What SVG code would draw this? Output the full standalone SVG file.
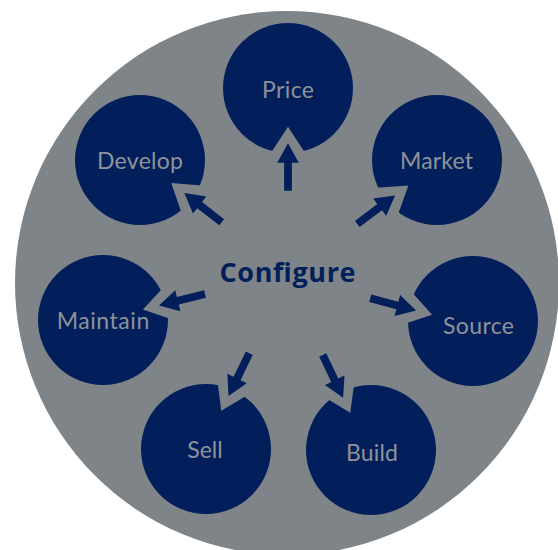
<svg xmlns="http://www.w3.org/2000/svg" width="558" height="550" viewBox="0 0 558 550">
  <style>
    .node { fill: #021f5b; }
    .label { font-family: Lato, "Open Sans", sans-serif; font-size: 23px; fill: #8e939a; text-anchor: middle; }
    .hub { font-family: "Open Sans", Lato, sans-serif; font-size: 27px; font-weight: bold; fill: #021f5b; text-anchor: middle; }
    .notch { fill: #7f8489; }
    .arrow { fill: #021f5b; }
  </style>
  <defs>
    <polygon id="notch" class="notch" points="64,0 28,-23.5 28,23.5"/>
    <path id="arrow" class="arrow" d="M0,-3.9 L28,-3.9 L28,-10.8 L47.4,0 L28,10.8 L28,3.9 L0,3.9 Z"/>
  </defs>
  <rect width="558" height="550" fill="#ffffff"/>
  <circle cx="287" cy="283" r="272" fill="#7f8489"/>

  <g id="node-price"><circle class="node" cx="288" cy="88" r="65"/></g>
  <g id="node-market"><circle class="node" cx="437" cy="160" r="65"/></g>
  <g id="node-source"><circle class="node" cx="473" cy="321" r="65"/></g>
  <g id="node-build"><circle class="node" cx="371" cy="450" r="65"/></g>
  <g id="node-sell"><circle class="node" cx="206" cy="449" r="65"/></g>
  <g id="node-maintain"><circle class="node" cx="103" cy="320" r="65"/></g>
  <g id="node-develop"><circle class="node" cx="140" cy="160" r="65"/></g>

  <g id="connectors">
    <g transform="translate(288,190.7) rotate(-90)"><use href="#notch"/><use href="#arrow"/></g>
    <g transform="translate(357.3,224) rotate(-37)"><use href="#notch"/><use href="#arrow"/></g>
    <g transform="translate(370.3,298.3) rotate(15)"><use href="#notch"/><use href="#arrow"/></g>
    <g transform="translate(322.7,355) rotate(64.5)"><use href="#notch"/><use href="#arrow"/></g>
    <g transform="translate(249.3,353.3) rotate(116)"><use href="#notch"/><use href="#arrow"/></g>
    <g transform="translate(205,294) rotate(166)"><use href="#notch"/><use href="#arrow"/></g>
    <g transform="translate(221.7,222.3) rotate(-142)"><use href="#notch"/><use href="#arrow"/></g>
  </g>

  <g id="labels">
    <text class="label" x="288" y="97.5" textLength="52">Price</text>
    <text class="label" x="436.5" y="168.5" textLength="73">Market</text>
    <text class="label" x="478.5" y="333.5" textLength="71">Source</text>
    <text class="label" x="372" y="460.5" textLength="52">Build</text>
    <text class="label" x="205" y="457.5" textLength="35.5">Sell</text>
    <text class="label" x="103" y="328.5" textLength="92.5">Maintain</text>
    <text class="label" x="140" y="168.5" textLength="86">Develop</text>
  </g>
  <g id="node-configure">
    <text class="hub" x="287.5" y="281.5" textLength="136">Configure</text>
  </g>
</svg>
